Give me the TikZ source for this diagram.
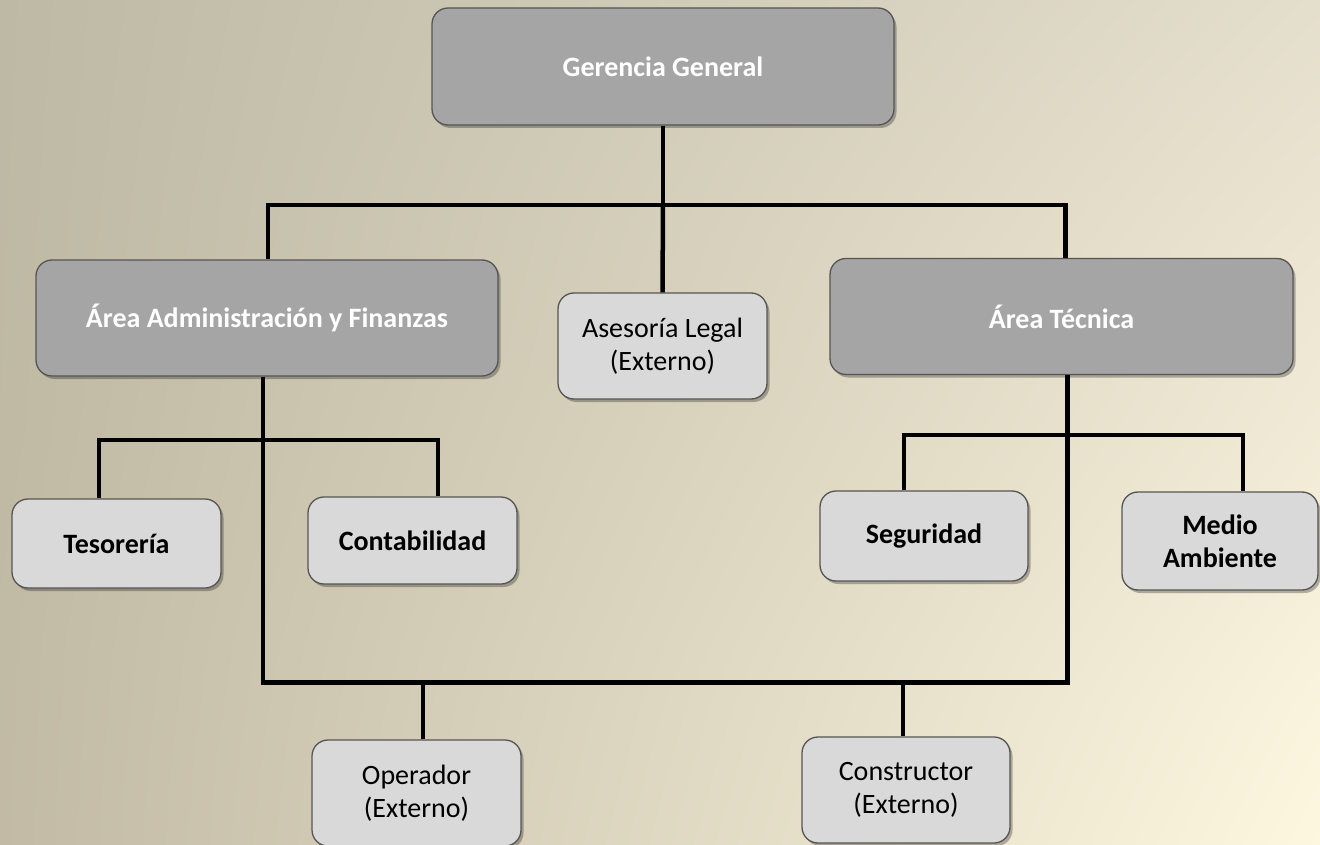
\documentclass[tikz,border=0pt]{standalone}
\usepackage{fontspec}
\setmainfont{Carlito}
\usetikzlibrary{shadows,shadings}
\definecolor{bgUL}{HTML}{BDB9A4}
\definecolor{bgLL}{HTML}{C2BAA4}
\definecolor{bgUR}{HTML}{E4DECC}
\definecolor{bgLR}{HTML}{FEF7E0}
\definecolor{darkbox}{HTML}{A5A5A5}
\definecolor{lightbox}{HTML}{D9D9D9}
\definecolor{boxborder}{HTML}{555555}
\begin{document}
\begin{tikzpicture}[x=1pt,y=-1pt,
  box/.style={rectangle, rounded corners=16pt, draw=boxborder, line width=1.3pt,
    align=center, inner sep=0pt,
    drop shadow={shadow xshift=2.5pt, shadow yshift=-3pt, opacity=0.28, fill=black},
    font=\fontsize{28}{33}\selectfont},
  dbox/.style={box, fill=darkbox, text=white, font=\fontsize{28}{33}\selectfont\bfseries},
  lbbox/.style={box, fill=lightbox, text=black, font=\fontsize{28}{33}\selectfont\bfseries},
  lbox/.style={box, fill=lightbox, text=black},
  conn/.style={draw=black, line width=4.5pt}]
\useasboundingbox (0,0) rectangle (1320,845);
\shade[upper left=bgUL, lower left=bgLL, upper right=bgUR, lower right=bgLR] (0,0) rectangle (1320,845);

\path
  (663,66.5)   node[dbox, minimum width=462pt, minimum height=117pt] (ger) {Gerencia General}
  (267,318)    node[dbox, minimum width=462pt, minimum height=116pt] (adm) {Área Administración y Finanzas}
  (662.5,346)  node[lbox, minimum width=209pt, minimum height=106pt] (leg) {Asesoría Legal\\(Externo)}
  (1061.5,316.5) node[dbox, minimum width=463pt, minimum height=116pt] (tec) {Área Técnica}
  (116.5,543.5) node[lbbox, minimum width=209pt, minimum height=89pt] (tes) {Tesorería}
  (412.5,540.5) node[lbbox, minimum width=209pt, minimum height=87pt] (con) {Contabilidad}
  (924,536)    node[lbbox, minimum width=208pt, minimum height=90pt] (seg) {Seguridad}
  (1220,541)   node[lbbox, minimum width=196pt, minimum height=98pt] (med) {Medio\\Ambiente}
  (416.5,793)  node[lbox, minimum width=209pt, minimum height=106pt] (ope) {Operador\\(Externo)}
  (906,790)    node[lbox, minimum width=208pt, minimum height=106pt] (cst) {Constructor\\(Externo)};

\coordinate (b1) at (663,205);
\draw[conn] (ger.south) -- (b1);
\draw[conn] ([xshift=1pt]adm.north) |- (b1) -| ([xshift=4pt]tec.north);
\draw[conn] (b1) -- (leg.north);
\draw[conn] ([xshift=-4pt]adm.south) -- ++(0,306) coordinate (b2) -| ([xshift=6pt]tec.south);
\draw[conn] ([xshift=-17.5pt]tes.north) |- (438,440) -- ([xshift=25.5pt]con.north);
\draw[conn] ([xshift=-20pt]seg.north) |- (1243,435) -- ([xshift=23pt]med.north);
\draw[conn] ([xshift=6.5pt]ope.north) -- ([xshift=6.5pt]ope.north |- b2);
\draw[conn] ([xshift=-3pt]cst.north) -- ([xshift=-3pt]cst.north |- b2);
\end{tikzpicture}
\end{document}
